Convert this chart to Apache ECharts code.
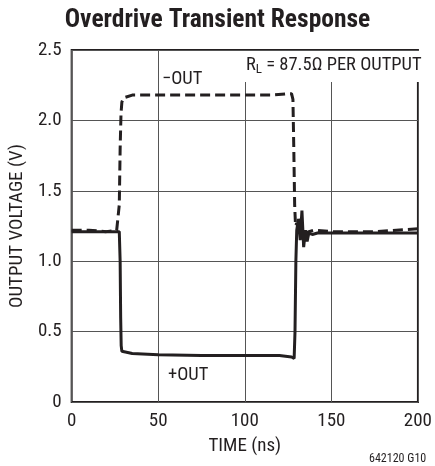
<!DOCTYPE html>
<html>
<head>
<meta charset="utf-8">
<script src="https://cdn.jsdelivr.net/npm/echarts@6/dist/echarts.min.js"></script>
<style>
html,body{margin:0;padding:0;background:#fff;}
#c{width:435px;height:466px;}
</style>
</head>
<body>
<div id="c"></div>
<script>
// Data
var minusOutTime = [0, 10, 20, 26, 27, 27.5, 28, 28.5, 29, 30, 31, 35, 50, 75, 100, 115, 125, 127, 127.8, 128.3, 128.8, 129.3, 130, 131, 132, 133, 134, 135, 137, 140, 150, 175, 200];
var minusOutV    = [1.22, 1.22, 1.21, 1.22, 1.23, 1.4, 1.8, 2.05, 2.13, 2.16, 2.17, 2.18, 2.18, 2.18, 2.18, 2.18, 2.19, 2.19, 2.15, 1.8, 1.4, 1.25, 1.27, 1.22, 1.3, 1.18, 1.22, 1.2, 1.21, 1.22, 1.21, 1.21, 1.23];
var plusOutTime  = [0, 10, 20, 26, 27.5, 28, 28.3, 28.6, 29, 30, 35, 50, 75, 100, 120, 127, 128.5, 129, 129.5, 130, 131, 132, 133, 134, 135, 136, 137, 139, 142, 150, 175, 200];
var plusOutV     = [1.21, 1.21, 1.21, 1.21, 1.21, 1.0, 0.6, 0.4, 0.36, 0.355, 0.345, 0.335, 0.33, 0.33, 0.33, 0.32, 0.31, 0.5, 1.0, 1.22, 1.3, 1.15, 1.36, 1.1, 1.22, 1.14, 1.2, 1.19, 1.2, 1.2, 1.2, 1.2, 1.2];
var xTicks = [0, 50, 100, 150, 200];
var yTicks = [0, 0.5, 1.0, 1.5, 2.0, 2.5];

function pairs(t, v) { return t.map(function (x, i) { return [x, v[i]]; }); }

var FONT = '"Liberation Sans Narrow", "Arial Narrow", "Roboto Condensed", "Liberation Sans", sans-serif';
var chart = echarts.init(document.getElementById('c'), null, {renderer: 'canvas'});
chart.setOption({
  animation: false,
  backgroundColor: '#fff',
  title: {
    text: 'Overdrive Transient Response',
    left: 'center', top: 3,
    textStyle: {fontFamily: FONT, fontWeight: 'bold', fontSize: 25.5, color: '#231f20'}
  },
  grid: {left: 70, right: 14, top: 50, bottom: 64, show: true, borderColor: '#231f20', borderWidth: 2},
  xAxis: {
    type: 'value', min: xTicks[0], max: xTicks[xTicks.length - 1], interval: 50,
    name: 'TIME (ns)', nameLocation: 'middle', nameGap: 35,
    nameTextStyle: {fontFamily: FONT, fontSize: 19, color: '#231f20'},
    axisLine: {show: false}, axisTick: {show: false},
    axisLabel: {fontFamily: FONT, fontSize: 19, color: '#231f20', margin: 10},
    splitLine: {show: true, lineStyle: {color: '#555', width: 1}}
  },
  yAxis: {
    type: 'value', min: yTicks[0], max: yTicks[yTicks.length - 1], interval: 0.5,
    name: 'OUTPUT VOLTAGE (V)', nameLocation: 'middle', nameGap: 44, nameRotate: 90,
    nameTextStyle: {fontFamily: FONT, fontSize: 19, color: '#231f20'},
    axisLine: {show: false}, axisTick: {show: false},
    axisLabel: {fontFamily: FONT, fontSize: 19, color: '#231f20', margin: 10,
      formatter: function (v) { return v === 0 ? '0' : v.toFixed(1); }},
    splitLine: {show: true, lineStyle: {color: '#555', width: 1}}
  },
  series: [
    {type: 'line', name: '-OUT', data: pairs(minusOutTime, minusOutV), showSymbol: false, z: 3,
     lineStyle: {color: '#231f20', width: 3, type: [10, 5], cap: 'butt'}},
    {type: 'line', name: '+OUT', data: pairs(plusOutTime, plusOutV), showSymbol: false, z: 4,
     lineStyle: {color: '#231f20', width: 3}}
  ],
  graphic: [
    {type: 'text', left: 244, top: 51, z: 10,
     style: {text: 'R{sub|L} = 87.5Ω PER OUTPUT', fontFamily: FONT, fontSize: 18.5, fill: '#231f20',
       backgroundColor: '#fff', padding: [3, 3, 6, 2],
       rich: {sub: {fontFamily: FONT, fontSize: 13, fill: '#231f20', verticalAlign: 'bottom', padding: [9, 0, 0, 0]}}}},
    {type: 'text', left: 162, top: 70, z: 10,
     style: {text: '−OUT', fontFamily: FONT, fontSize: 18.5, fill: '#231f20'}},
    {type: 'text', left: 168, top: 366, z: 10,
     style: {text: '+OUT', fontFamily: FONT, fontSize: 18.5, fill: '#231f20'}},
    {type: 'text', left: 369, top: 453, z: 10,
     style: {text: '642120 G10', fontFamily: FONT, fontSize: 12, fill: '#231f20'}}
  ]
});
</script>
</body>
</html>
